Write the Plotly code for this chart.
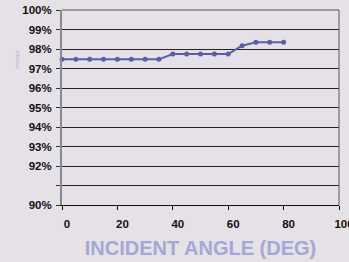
import plotly.graph_objects as go

angles = [0, 5, 10, 15, 20, 25, 30, 35, 40, 45, 50, 55, 60, 65, 70, 75, 80]
efficiency = [97.47, 97.47, 97.47, 97.47, 97.47, 97.47, 97.47, 97.47,
              97.74, 97.74, 97.74, 97.74, 97.74, 98.17, 98.34, 98.34, 98.34]
y_ticks = [90, 91, 92, 93, 94, 95, 96, 97, 98, 99, 100]
y_tick_labels = ["90%", "", "92%", "93%", "94%", "95%", "96%", "97%", "98%", "99%", "100%"]
x_ticks = [0, 20, 40, 60, 80, 100]
x_title = "INCIDENT ANGLE (DEG)"

bg = "#E5E1E7"
font = "Liberation Sans, Arial, sans-serif"

fig = go.Figure()
fig.add_trace(go.Scatter(
    x=angles, y=efficiency, mode="lines+markers",
    line=dict(color="#5A5EA8", width=2),
    marker=dict(color="#5A5EA8", size=5),
    showlegend=False, cliponaxis=False,
))

fig.update_layout(
    width=349, height=262,
    margin=dict(l=62, r=10, t=10, b=57, autoexpand=False),
    paper_bgcolor=bg, plot_bgcolor=bg,
    font=dict(family=font, size=11.5, color="#111111"),
    xaxis=dict(
        range=[0, 100], tickvals=x_ticks, ticktext=[str(v) for v in x_ticks],
        showgrid=False, zeroline=False, automargin=False,
        showline=True, linecolor="#111111", linewidth=1,
        ticks="outside", ticklen=4, tickcolor="#111111",
        tickfont=dict(family=font, size=11.5, color="#111111", weight="bold"),
        ticklabelshift=5, ticklabelstandoff=4, ticklabeloverflow="allow",
        title=dict(text=x_title, font=dict(family=font, size=20, color="#A3A8D6", weight="bold"),
                   standoff=12),
    ),
    yaxis=dict(
        range=[90, 100], tickvals=y_ticks, ticktext=y_tick_labels,
        showgrid=True, gridcolor="#222222", gridwidth=1,
        zeroline=False, automargin=False,
        showline=True, linecolor="#8A8790", linewidth=2,
        ticks="outside", ticklen=4, tickcolor="#333333",
        tickfont=dict(family=font, size=11.5, color="#111111", weight="bold"),
        ticklabelstandoff=2,
    ),
    shapes=[
        dict(type="line", xref="paper", yref="paper", x0=0, x1=1, y0=1, y1=1,
             line=dict(color="#555555", width=1)),
        dict(type="line", xref="paper", yref="paper", x0=1, x1=1, y0=0, y1=1,
             line=dict(color="#555555", width=1)),
    ],
    annotations=[
        dict(text="EFFICIENCY", xref="paper", yref="paper", x=-0.175, y=0.8,
             showarrow=False, textangle=-90,
             font=dict(family=font, size=3, color="#A8A4D8")),
    ],
)

fig.write_html(
    "out.html",
    config={"displayModeBar": False},
    post_script="document.body.style.margin='0';document.body.style.overflow='hidden';",
)
